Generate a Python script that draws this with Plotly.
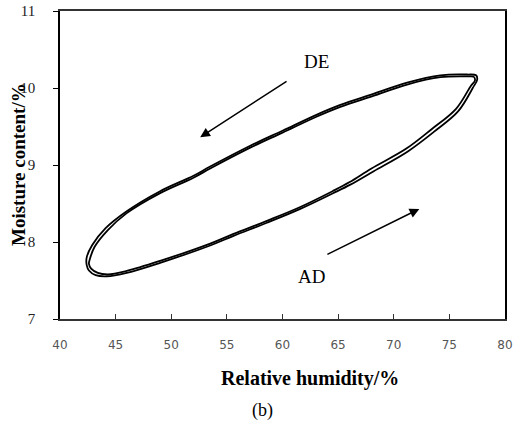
import plotly.graph_objects as go

# Cycle A (outer trace of the double line)
ad_rh_a = [42.4, 42.6, 43.2, 44.2, 46.0, 49.0, 53.5, 55.6, 58.6, 61.6, 64.5, 66.1, 68.2, 71.3, 73.6, 75.8, 77.1, 77.5]
ad_mc_a = [7.70, 7.63, 7.57, 7.555, 7.60, 7.73, 7.955, 8.08, 8.25, 8.43, 8.63, 8.745, 8.92, 9.18, 9.43, 9.70, 10.00, 10.11]
de_rh_a = [77.4, 76.6, 74.2, 71.2, 68.1, 65.2, 63.1, 60.0, 57.1, 53.5, 52.0, 49.0, 46.0, 44.1, 42.9, 42.4, 42.4]
de_mc_a = [10.165, 10.175, 10.165, 10.07, 9.92, 9.78, 9.655, 9.445, 9.25, 8.98, 8.86, 8.66, 8.40, 8.18, 7.96, 7.80, 7.70]

# Cycle B (inner trace of the double line)
ad_rh_b = [42.6, 42.8, 43.4, 44.3, 46.0, 49.0, 53.5, 55.6, 58.6, 61.6, 64.5, 66.0, 68.0, 71.1, 73.4, 75.6, 76.9, 77.3]
ad_mc_b = [7.715, 7.655, 7.60, 7.58, 7.625, 7.755, 7.98, 8.105, 8.275, 8.455, 8.66, 8.775, 8.955, 9.21, 9.465, 9.73, 10.02, 10.10]
de_rh_b = [77.2, 76.6, 74.2, 71.2, 68.1, 65.2, 63.1, 60.0, 57.1, 53.5, 52.0, 49.0, 46.0, 44.3, 43.1, 42.7, 42.6]
de_mc_b = [10.145, 10.15, 10.14, 10.045, 9.895, 9.755, 9.63, 9.42, 9.225, 8.955, 8.835, 8.635, 8.375, 8.155, 7.935, 7.785, 7.715]

x_ticks = [40, 45, 50, 55, 60, 65, 70, 75, 80]
y_ticks = [7, 8, 9, 10, 11]

SERIF = "Liberation Serif, Times New Roman, serif"

fig = go.Figure()
for rh_ad, mc_ad, rh_de, mc_de in [(ad_rh_a, ad_mc_a, de_rh_a, de_mc_a),
                                   (ad_rh_b, ad_mc_b, de_rh_b, de_mc_b)]:
    fig.add_trace(go.Scatter(
        x=rh_ad + rh_de, y=mc_ad + mc_de, mode="lines",
        line=dict(color="black", width=1.8, shape="spline", smoothing=1.0),
        showlegend=False, hoverinfo="skip"))

fig.update_layout(
    width=524, height=425,
    margin=dict(l=60, r=19, t=11, b=106),
    plot_bgcolor="white", paper_bgcolor="white",
    showlegend=False,
    xaxis=dict(range=[40, 80], tickvals=x_ticks, ticktext=[str(v) for v in x_ticks],
               ticks="inside", ticklen=5, tickcolor="#333", tickwidth=1,
               showline=True, linecolor="#333", linewidth=1.5, mirror=True,
               showgrid=False, zeroline=False, automargin=False,
               tickfont=dict(family="DejaVu Sans", size=12, color="#555"),
               ticklabelstandoff=14),
    yaxis=dict(range=[7, 11], tickvals=y_ticks, ticktext=[str(v) for v in y_ticks],
               ticks="outside", ticklen=5, tickcolor="black", tickwidth=1,
               showline=True, linecolor="black", linewidth=1.5, mirror=True,
               showgrid=False, zeroline=False, automargin=False,
               tickfont=dict(family=SERIF, size=15, color="#222"),
               ticklabelstandoff=15),
)

# Direction arrows
fig.add_annotation(x=52.6, y=9.36, ax=60.5, ay=10.10, xref="x", yref="y", axref="x", ayref="y",
                   text="", showarrow=True, arrowhead=2, arrowsize=1.3, arrowwidth=1.5, arrowcolor="black")
fig.add_annotation(x=72.3, y=8.43, ax=63.9, ay=7.83, xref="x", yref="y", axref="x", ayref="y",
                   text="", showarrow=True, arrowhead=2, arrowsize=1.3, arrowwidth=1.5, arrowcolor="black")
fig.add_annotation(x=63.1, y=10.35, xref="x", yref="y", text="DE", showarrow=False,
                   xanchor="center", yanchor="middle",
                   font=dict(family=SERIF, size=19, color="black"))
fig.add_annotation(x=62.6, y=7.55, xref="x", yref="y", text="AD", showarrow=False,
                   xanchor="center", yanchor="middle",
                   font=dict(family=SERIF, size=19, color="black"))

# Axis titles and caption
fig.add_annotation(x=(310 - 60) / 445, y=-(378 - 319) / 308, xref="paper", yref="paper",
                   text="<b>Relative humidity/%</b>", showarrow=False,
                   xanchor="center", yanchor="middle",
                   font=dict(family=SERIF, size=20, color="black"))
fig.add_annotation(x=-(60 - 18) / 445, y=0.5, xref="paper", yref="paper",
                   text="<b>Moisture content/%</b>", showarrow=False, textangle=-90,
                   xanchor="center", yanchor="middle",
                   font=dict(family=SERIF, size=19, color="black"))
fig.add_annotation(x=(262 - 60) / 445, y=-(410 - 319) / 308, xref="paper", yref="paper",
                   text="(b)", showarrow=False,
                   xanchor="center", yanchor="middle",
                   font=dict(family=SERIF, size=18, color="black"))

fig.write_html("out.html")
